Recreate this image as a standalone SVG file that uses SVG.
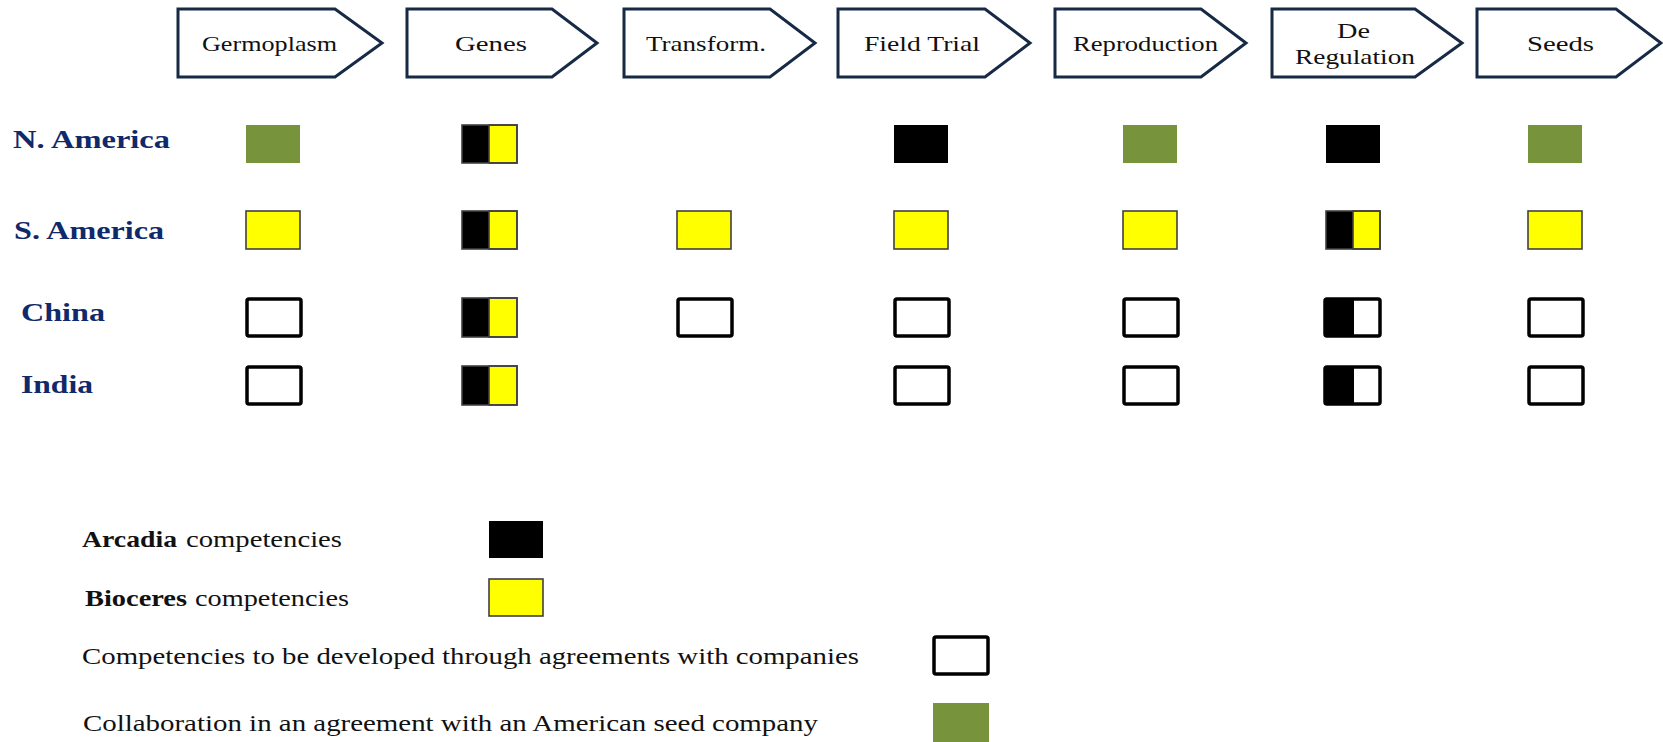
<svg xmlns="http://www.w3.org/2000/svg" width="1663" height="742" viewBox="0 0 1663 742">
<style>
.hdr{fill:#fff;stroke:#172a45;stroke-width:3;stroke-linejoin:miter}
.ht{font-family:"Liberation Serif","Times New Roman",serif;font-size:22px;fill:#111}
.rl{font-family:"Liberation Serif","Times New Roman",serif;font-size:26px;font-weight:bold;fill:#10296a}
.lt{font-family:"Liberation Serif","Times New Roman",serif;font-size:24px;fill:#111}
.b{font-weight:bold}
.g{fill:#77933c}
.y{fill:#ffff00;stroke:#404040;stroke-width:1.6}
.k{fill:#000}
.w{fill:#fff;stroke:#000;stroke-width:3.5}
.by{fill:none;stroke:#404040;stroke-width:1.6}
</style>
<rect width="1663" height="742" fill="#fff"/>

<g id="h-germoplasm"><path class="hdr" d="M178,9 H335 L382,43 L335,77 H178 Z"/><text class="ht" x="202" y="51" textLength="135" lengthAdjust="spacingAndGlyphs">Germoplasm</text></g>
<g id="h-genes"><path class="hdr" d="M407,9 H552 L597,43 L552,77 H407 Z"/><text class="ht" x="455" y="51" textLength="72" lengthAdjust="spacingAndGlyphs">Genes</text></g>
<g id="h-transform"><path class="hdr" d="M624,9 H770 L815,43 L770,77 H624 Z"/><text class="ht" x="646" y="51" textLength="120" lengthAdjust="spacingAndGlyphs">Transform.</text></g>
<g id="h-field"><path class="hdr" d="M838,9 H985 L1030,43 L985,77 H838 Z"/><text class="ht" x="864" y="51" textLength="116" lengthAdjust="spacingAndGlyphs">Field Trial</text></g>
<g id="h-repro"><path class="hdr" d="M1055,9 H1201 L1246,43 L1201,77 H1055 Z"/><text class="ht" x="1073" y="51" textLength="145" lengthAdjust="spacingAndGlyphs">Reproduction</text></g>
<g id="h-dereg"><path class="hdr" d="M1272,9 H1415 L1462,43 L1415,77 H1272 Z"/><text class="ht" x="1337" y="38" textLength="33" lengthAdjust="spacingAndGlyphs">De</text><text class="ht" x="1295" y="64" textLength="120" lengthAdjust="spacingAndGlyphs">Regulation</text></g>
<g id="h-seeds"><path class="hdr" d="M1477,9 H1616 L1661,43 L1616,77 H1477 Z"/><text class="ht" x="1527" y="51" textLength="67" lengthAdjust="spacingAndGlyphs">Seeds</text></g>

<g id="row-labels">
<text class="rl" x="13" y="148" textLength="157" lengthAdjust="spacingAndGlyphs">N. America</text>
<text class="rl" x="14" y="239" textLength="150" lengthAdjust="spacingAndGlyphs">S. America</text>
<text class="rl" x="21" y="321" textLength="84" lengthAdjust="spacingAndGlyphs">China</text>
<text class="rl" x="21" y="393" textLength="72" lengthAdjust="spacingAndGlyphs">India</text>
</g>

<g id="row-namerica">
<rect class="g" x="246" y="125" width="54" height="38"/>
<rect class="k" x="462" y="125" width="27" height="38"/><rect class="y" x="489" y="125" width="28" height="38"/><rect class="by" x="462" y="125" width="55" height="38"/>
<rect class="k" x="894" y="125" width="54" height="38"/>
<rect class="g" x="1123" y="125" width="54" height="38"/>
<rect class="k" x="1326" y="125" width="54" height="38"/>
<rect class="g" x="1528" y="125" width="54" height="38"/>
</g>

<g id="row-samerica">
<rect class="y" x="246" y="211" width="54" height="38"/>
<rect class="k" x="462" y="211" width="27" height="38"/><rect class="y" x="489" y="211" width="28" height="38"/><rect class="by" x="462" y="211" width="55" height="38"/>
<rect class="y" x="677" y="211" width="54" height="38"/>
<rect class="y" x="894" y="211" width="54" height="38"/>
<rect class="y" x="1123" y="211" width="54" height="38"/>
<rect class="k" x="1326" y="211" width="27" height="38"/><rect class="y" x="1353" y="211" width="27" height="38"/><rect class="by" x="1326" y="211" width="54" height="38"/>
<rect class="y" x="1528" y="211" width="54" height="38"/>
</g>

<g id="row-china">
<rect class="w" x="247" y="299" width="54" height="37" rx="2"/>
<rect class="k" x="462" y="298" width="27" height="39"/><rect class="y" x="489" y="298" width="28" height="39"/><rect class="by" x="462" y="298" width="55" height="39"/>
<rect class="w" x="678" y="299" width="54" height="37" rx="2"/>
<rect class="w" x="895" y="299" width="54" height="37" rx="2"/>
<rect class="w" x="1124" y="299" width="54" height="37" rx="2"/>
<rect class="k" x="1325" y="299" width="29" height="37"/><rect class="w" x="1325" y="299" width="55" height="37" rx="2" style="fill:none"/>
<rect class="w" x="1529" y="299" width="54" height="37" rx="2"/>
</g>

<g id="row-india">
<rect class="w" x="247" y="367" width="54" height="37" rx="2"/>
<rect class="k" x="462" y="366" width="27" height="39"/><rect class="y" x="489" y="366" width="28" height="39"/><rect class="by" x="462" y="366" width="55" height="39"/>
<rect class="w" x="895" y="367" width="54" height="37" rx="2"/>
<rect class="w" x="1124" y="367" width="54" height="37" rx="2"/>
<rect class="k" x="1325" y="367" width="29" height="37"/><rect class="w" x="1325" y="367" width="55" height="37" rx="2" style="fill:none"/>
<rect class="w" x="1529" y="367" width="54" height="37" rx="2"/>
</g>

<g id="legend">
<text class="lt b" x="82" y="547" textLength="95" lengthAdjust="spacingAndGlyphs">Arcadia</text>
<text class="lt" x="186" y="547" textLength="156" lengthAdjust="spacingAndGlyphs">competencies</text>
<rect class="k" x="489" y="521" width="54" height="37"/>
<text class="lt b" x="85" y="606" textLength="102" lengthAdjust="spacingAndGlyphs">Bioceres</text>
<text class="lt" x="195" y="606" textLength="154" lengthAdjust="spacingAndGlyphs">competencies</text>
<rect class="y" x="489" y="579" width="54" height="37"/>
<text class="lt" x="82" y="664" textLength="777" lengthAdjust="spacingAndGlyphs">Competencies to be developed through agreements with companies</text>
<rect class="w" x="934" y="637" width="54" height="37" rx="2"/>
<text class="lt" x="83" y="731" textLength="735" lengthAdjust="spacingAndGlyphs">Collaboration in an agreement with an American seed company</text>
<rect class="g" x="933" y="703" width="56" height="39"/>
</g>
</svg>
